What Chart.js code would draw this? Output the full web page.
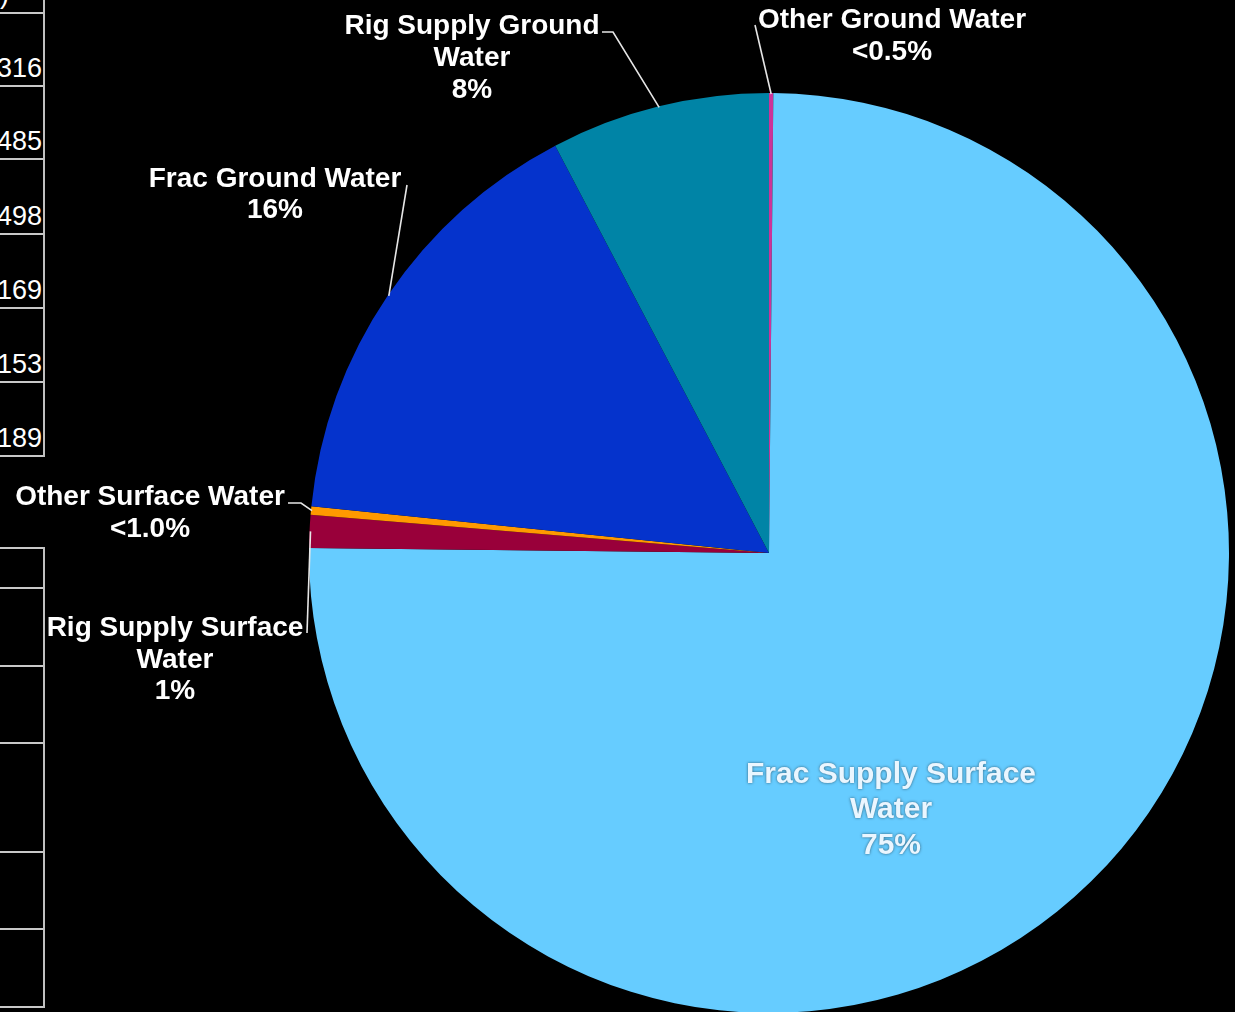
<!DOCTYPE html>
<html>
<head>
<meta charset="utf-8">
<script src="https://cdn.jsdelivr.net/npm/chart.js@4.4.1/dist/chart.umd.min.js"></script>
<style>
  html, body { margin: 0; padding: 0; background: #000; overflow: hidden; }
  body { width: 1235px; height: 1012px; position: relative; font-family: "Liberation Sans", Arial, sans-serif; }
  #wrap { position: absolute; left: 0; top: 0; width: 1235px; height: 1020px; }
  .hl { position: absolute; left: 0; width: 45px; height: 2px; background: #c8c8c8; }
  .vl { position: absolute; left: 43px; width: 2px; background: #c0c0c0; }
  .num { position: absolute; right: 1193px; color: #fff; font-size: 27px; line-height: 27px; }
</style>
</head>
<body>
<div id="table"></div>
<div id="wrap"><canvas id="grafico"></canvas></div>
<script>
// pie slices, clockwise from 12 o'clock
const categories = [
  ['Other Ground Water'],
  ['Frac Supply Surface', 'Water'],
  ['Rig Supply Surface', 'Water'],
  ['Other Surface Water'],
  ['Frac Ground Water'],
  ['Rig Supply Ground', 'Water']
];
const shares = [0.15, 75.1, 1.15, 0.3, 15.7, 7.7];
const pctLabels = ['<0.5%', '75%', '1%', '<1.0%', '16%', '8%'];
const colors = ['#cc3399', '#66ccff', '#99003a', '#ff9900', '#0533cc', '#0084a6'];

// cut-off table on the left edge of the slide
const tableValues = ['316', '485', '498', '169', '153', '189'];

// build the left table (only its right edge is visible)
const tbl = document.getElementById('table');
const topLines = [13, 86, 159, 234, 308, 382, 456];
const lowLines = [548, 588, 666, 743, 852, 929, 1007];
function addDiv(cls, css, txt) {
  const d = document.createElement('div');
  d.className = cls;
  Object.assign(d.style, css);
  if (txt) d.textContent = txt;
  tbl.appendChild(d);
}
topLines.forEach(y => addDiv('hl', { top: (y - 1) + 'px' }));
lowLines.forEach(y => addDiv('hl', { top: (y - 1) + 'px' }));
addDiv('vl', { top: '0px', height: '457px' });
addDiv('vl', { top: '547px', height: '461px' });
addDiv('num', { top: '-19px', left: '0px', right: 'auto' }, ')');
tableValues.forEach((v, i) => {
  addDiv('num', { top: (topLines[i + 1] - 31) + 'px' }, v);
});

// label boxes and leader elbows, relative to the pie centre
const labelLayout = [
  { x: 123, y: -535, gap: 32, size: 28, leader: [[-14, -528]] },
  { x: 122, y: 219, gap: 35.5, size: 30, color: '#eaf6ff', leader: null },
  { x: -594, y: 73, gap: 31.5, size: 28, leader: [[-462, 80]] },
  { x: -619, y: -58, gap: 32, size: 28, leader: [[-481, -50], [-468, -50]] },
  { x: -494, y: -376, gap: 31, size: 28, leader: [[-362, -368]] },
  { x: -297, y: -529, gap: 32, size: 28, leader: [[-167, -521], [-156, -521]] }
];

const sliceLabels = {
  id: 'sliceLabels',
  afterDatasetsDraw(chart) {
    const ctx = chart.ctx;
    const meta = chart.getDatasetMeta(0);
    meta.data.forEach((arc, i) => {
      const p = arc.getProps(['x', 'y', 'startAngle', 'endAngle', 'outerRadius'], true);
      const lay = labelLayout[i];
      const mid = (p.startAngle + p.endAngle) / 2;
      ctx.save();
      if (lay.leader) {
        ctx.strokeStyle = '#e6e6e6';
        ctx.lineWidth = 1.6;
        ctx.beginPath();
        lay.leader.forEach((pt, k) => {
          if (k === 0) ctx.moveTo(p.x + pt[0], p.y + pt[1]);
          else ctx.lineTo(p.x + pt[0], p.y + pt[1]);
        });
        ctx.lineTo(p.x + Math.cos(mid) * (p.outerRadius - 1), p.y + Math.sin(mid) * (p.outerRadius - 1));
        ctx.stroke();
      }
      const lines = categories[i].concat([pctLabels[i]]);
      ctx.font = 'bold ' + lay.size + 'px "Liberation Sans", Arial, sans-serif';
      ctx.textAlign = 'center';
      ctx.textBaseline = 'alphabetic';
      ctx.fillStyle = lay.color || '#ffffff';
      ctx.shadowColor = 'rgba(0,0,0,0.55)';
      ctx.shadowBlur = 3;
      lines.forEach((t, k) => {
        ctx.fillText(t, p.x + lay.x, p.y + lay.y + k * lay.gap + lay.size * 0.36);
      });
      ctx.restore();
    });
  }
};

new Chart(document.getElementById('grafico'), {
  type: 'pie',
  data: {
    labels: categories.map(c => c.join(' ')),
    datasets: [{
      data: shares,
      backgroundColor: colors,
      borderWidth: 0
    }]
  },
  options: {
    responsive: true,
    maintainAspectRatio: false,
    animation: false,
    layout: { padding: { left: 309, right: 6, top: 93, bottom: 7 } },
    plugins: {
      legend: { display: false },
      tooltip: { enabled: false }
    }
  },
  plugins: [sliceLabels]
});
</script>
</body>
</html>
